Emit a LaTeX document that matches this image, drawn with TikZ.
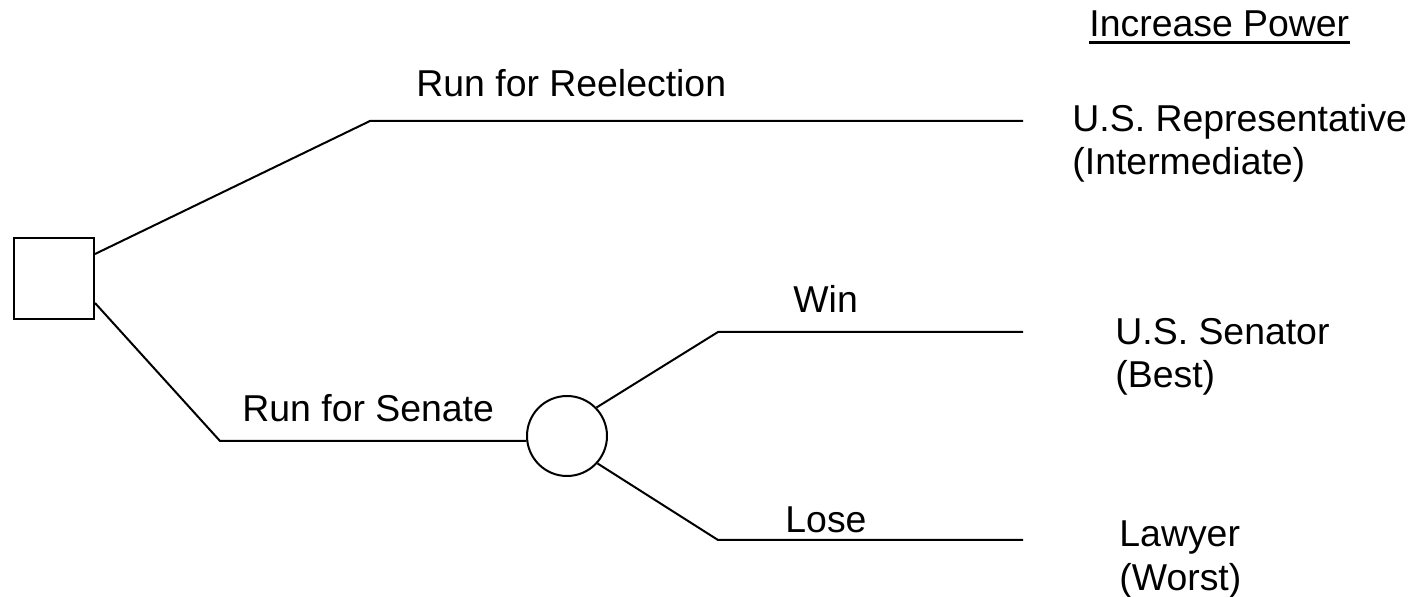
\documentclass[tikz,border=0pt]{standalone}
\usepackage{fontspec}
\setmainfont{Liberation Sans}
\begin{document}
\begin{tikzpicture}[x=0.5pt,y=-0.5pt,
  conn/.style={line width=1pt,line join=miter},
  lbl/.style={inner sep=0pt,anchor=base west,font=\fontsize{18.7pt}{21.5pt}\selectfont},
  res/.style={lbl,align=left},
  decision/.style={draw,line width=1pt,rectangle,minimum width=40pt,minimum height=40.5pt,inner sep=0pt},
  chance/.style={draw,line width=1pt,circle,minimum size=40pt,inner sep=0pt}]
\useasboundingbox (0,0) rectangle (1412,597);
% nodes
\node[decision] (dec) at (54,278.5) {};
\node[chance] (ch) at (567,436) {};
\coordinate (k1) at (370,121);
\coordinate (e1) at (1023,121);
\coordinate (k2) at (220,441);
\coordinate (k3) at (718,332);
\coordinate (e3) at (1023,332);
\coordinate (k4) at (718,540);
\coordinate (e4) at (1023,540);
% connectors
\draw[conn] ([yshift=12.25pt]dec.east) -- (k1) -- (e1);
\draw[conn] ([yshift=-12.25pt]dec.east) -- (k2) -- (ch.187);
\draw[conn] (ch.44) -- (k3) -- (e3);
\draw[conn] (ch.-42) -- (k4) -- (e4);
% labels
\node[lbl] (title) at (1089,37) {Increase Power};
\draw[line width=1.5pt] ([yshift=-3pt]title.base west) -- ([yshift=-3pt]title.base east);
\node[lbl] (reel) at (416,97) {Run for Reelection};
\node[lbl] (sen) at (242,422) {Run for Senate};
\node[lbl] (win) at (793,313) {Win};
\node[lbl] (lose) at (785,533) {Lose};
\node[res] (r1) at (1072,175) {U.S. Representative\\(Intermediate)};
\node[res] (r2) at (1115,388) {U.S. Senator\\(Best)};
\node[res] (r3) at (1119,590) {Lawyer\\(Worst)};
\end{tikzpicture}
\end{document}
